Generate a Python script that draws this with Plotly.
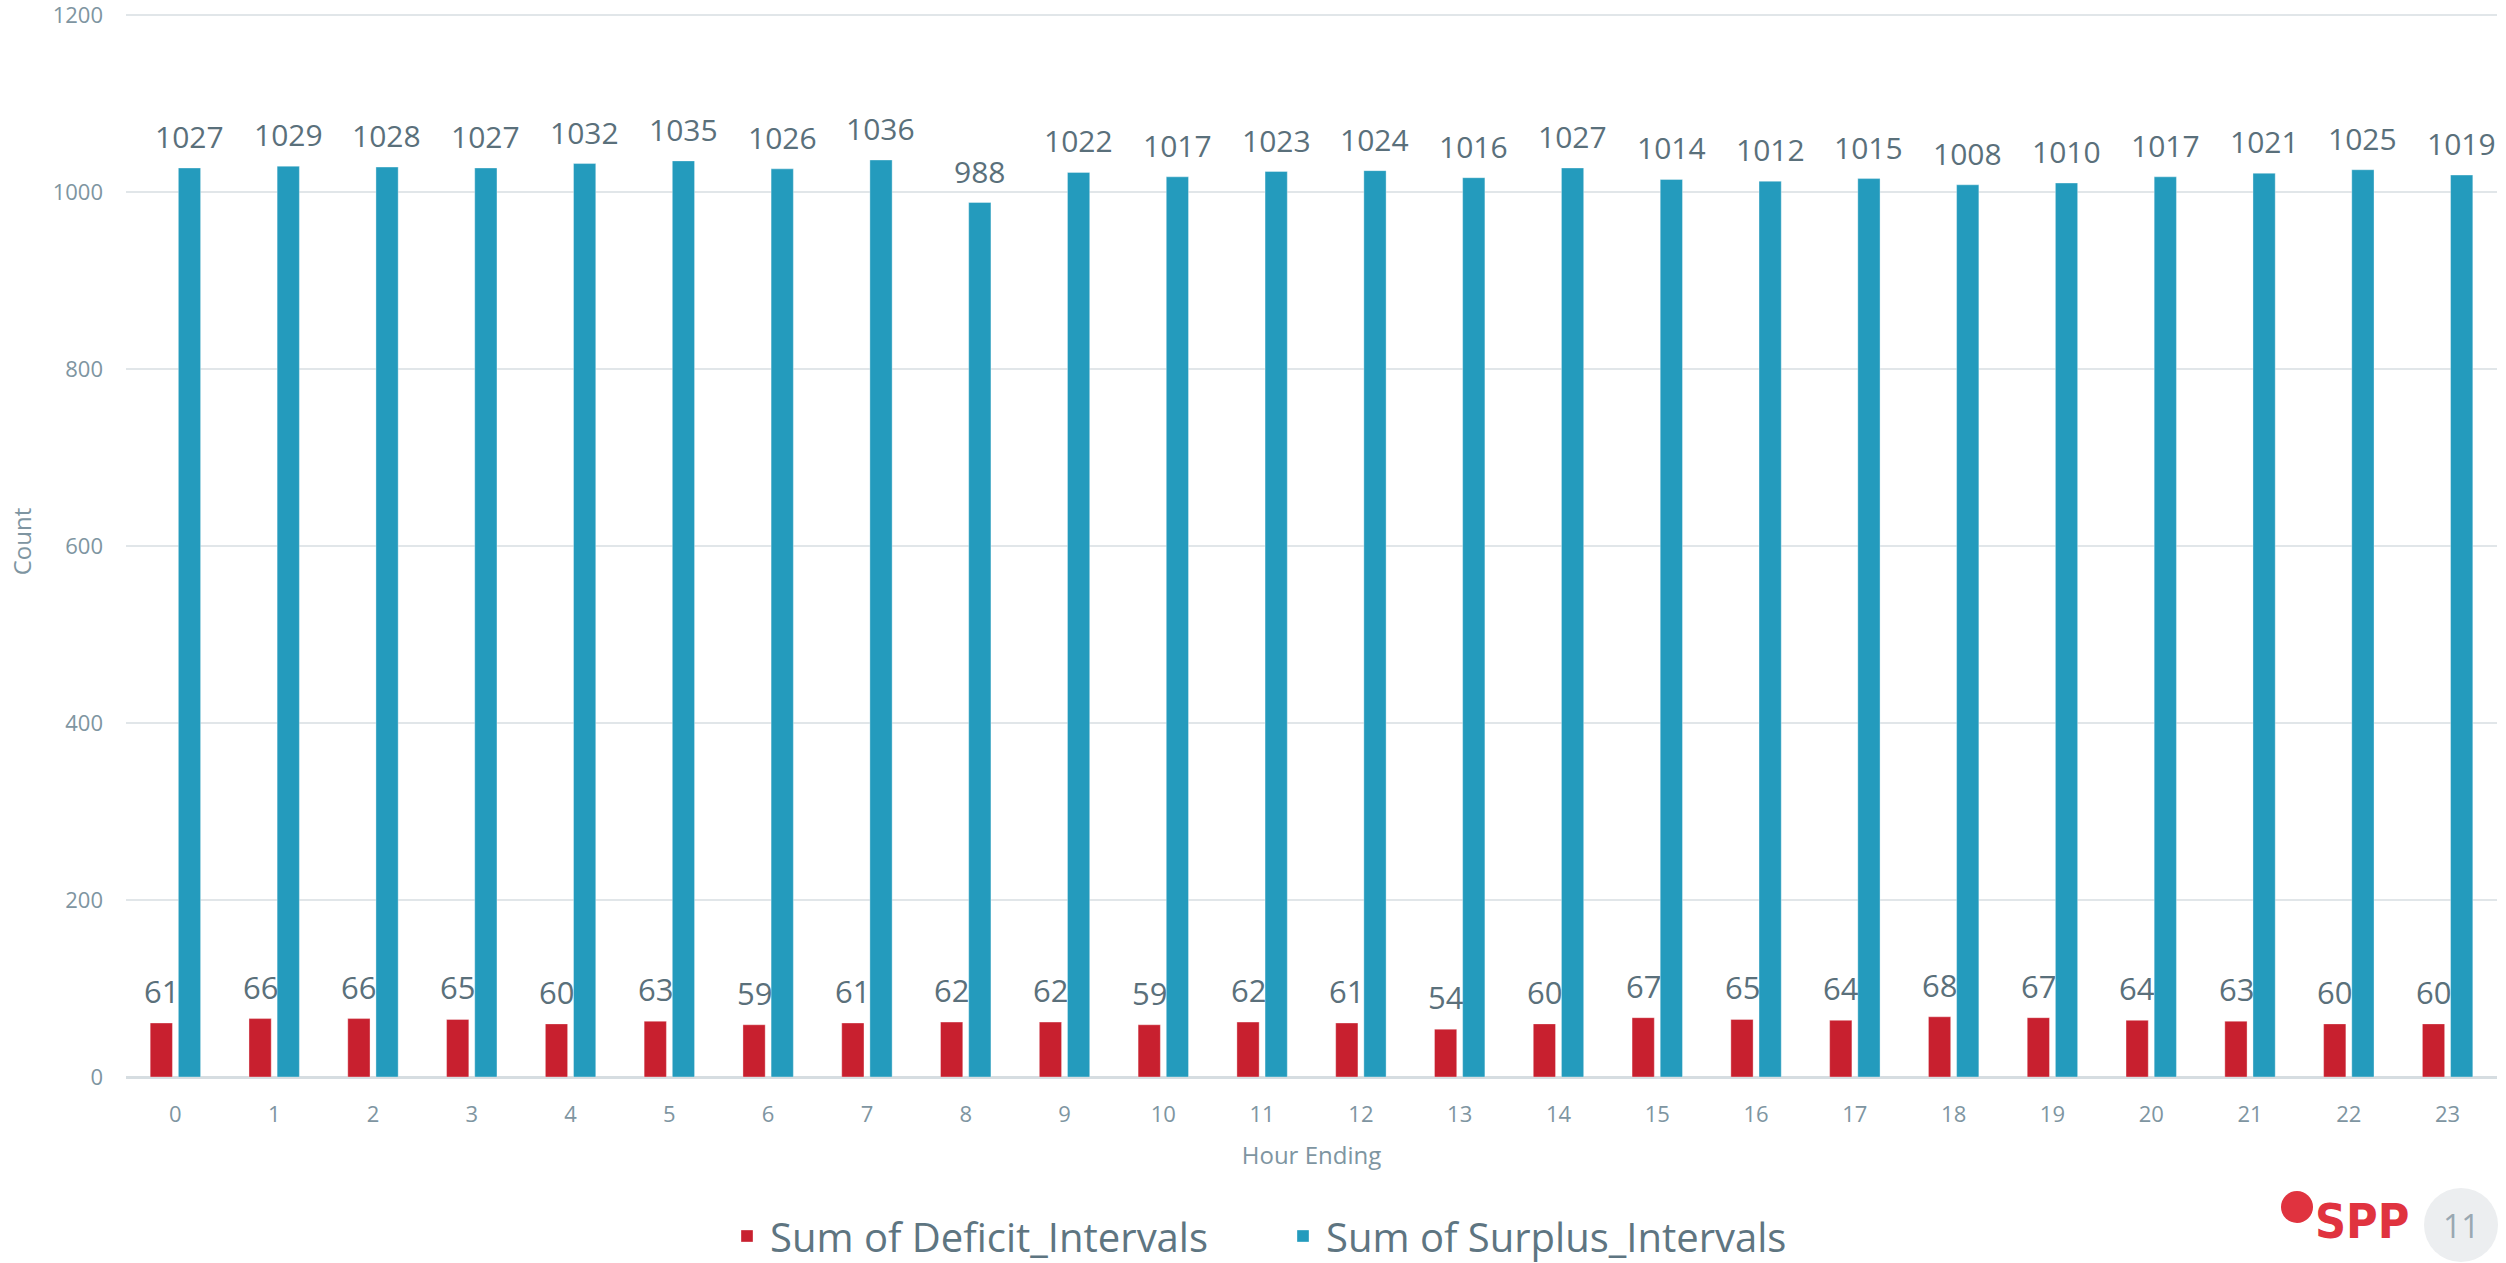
import plotly.graph_objects as go

hours = list(range(24))
deficit = [61, 66, 66, 65, 60, 63, 59, 61, 62, 62, 59, 62, 61, 54, 60, 67, 65, 64, 68, 67, 64, 63, 60, 60]
surplus = [1027, 1029, 1028, 1027, 1032, 1035, 1026, 1036, 988, 1022, 1017, 1023, 1024, 1016, 1027,
           1014, 1012, 1015, 1008, 1010, 1017, 1021, 1025, 1019]
y_ticks = [0, 200, 400, 600, 800, 1000, 1200]
series_names = ["Sum of Deficit_Intervals", "Sum of Surplus_Intervals"]

RED = "#C8202F"
BLUE = "#249BBD"
LABEL = "#5A707B"
TICK = "#7E95A1"
FONT = "Open Sans, Noto Sans, sans-serif"

W, H = 2506, 1263
ML, MR, MT, MB = 126, 9, 6, 186
PW, PH = W - ML - MR, H - MT - MB
Y_MAX = 1210


def px_x(p):
    return (p - ML) / PW


def px_y(p):
    return (H - MB - p) / PH


fig = go.Figure()
fig.add_trace(go.Bar(x=hours, y=deficit, name=series_names[0], marker=dict(color=RED, line=dict(color="rgba(255,255,255,0.35)", width=1))))
fig.add_trace(go.Bar(x=hours, y=surplus, name=series_names[1], marker=dict(color=BLUE, line=dict(color="rgba(255,255,255,0.35)", width=1))))

annotations = []
for h, v in zip(hours, deficit):
    annotations.append(dict(x=h, y=v, text=str(v), xshift=-14, yshift=9, yanchor="bottom",
                            showarrow=False, font=dict(size=31, color=LABEL, family=FONT)))
for h, v in zip(hours, surplus):
    annotations.append(dict(x=h, y=v, text=str(v), xshift=14, yshift=9, yanchor="bottom",
                            showarrow=False, font=dict(size=30, color=LABEL, family=FONT)))

# SPP logo text and page number
annotations.append(dict(xref="paper", yref="paper", x=px_x(2362), y=px_y(1221), text="<b>SPP</b>",
                        showarrow=False, xanchor="center", yanchor="middle",
                        font=dict(size=48, color="#E0333F", family="Liberation Sans Narrow, DejaVu Sans Condensed, sans-serif")))
annotations.append(dict(xref="paper", yref="paper", x=px_x(2461), y=px_y(1225), text="11",
                        showarrow=False, xanchor="center", yanchor="middle",
                        font=dict(size=32, color="#9AA8B2", family=FONT)))

shapes = [
    dict(type="circle", xref="paper", yref="paper", x0=px_x(2424), x1=px_x(2498), y0=px_y(1262), y1=px_y(1188),
         fillcolor="#ECEEF0", line=dict(width=0), layer="below"),
    dict(type="circle", xref="paper", yref="paper", x0=px_x(2281), x1=px_x(2313), y0=px_y(1223), y1=px_y(1191),
         fillcolor="#E0333F", line=dict(width=0)),
]

fig.update_layout(
    width=W, height=H,
    margin=dict(l=ML, r=MR, t=MT, b=MB, autoexpand=False),
    paper_bgcolor="white", plot_bgcolor="white",
    barmode="group", bargap=0.43, bargroupgap=0.21,
    font=dict(family=FONT, color=TICK),
    showlegend=True,
    legend=dict(orientation="h", x=px_x(724), xanchor="left", y=px_y(1236), yanchor="middle",
                font=dict(size=40, color="#5E7581", family=FONT), itemwidth=36, tracegroupgap=0,
                entrywidth=505, entrywidthmode="pixels"),
    annotations=annotations,
    shapes=shapes,
    xaxis=dict(range=[-0.5, 23.5], tickmode="array", tickvals=hours, ticktext=[str(h) for h in hours],
               showgrid=False, showline=False, zeroline=False, ticks="", automargin=False,
               tickfont=dict(size=22, color=TICK), ticklabelstandoff=22,
               title=dict(text="Hour Ending", font=dict(size=24, color=TICK), standoff=20)),
    yaxis=dict(range=[0, Y_MAX], tickmode="array", tickvals=y_ticks, ticktext=[str(t) for t in y_ticks],
               showgrid=True, gridcolor="#E1E6E9", gridwidth=2, automargin=False,
               zeroline=True, zerolinecolor="#D6DDE1", zerolinewidth=3, showline=False, ticks="",
               tickfont=dict(size=22, color=TICK), ticklabelstandoff=22, ticklabeloverflow="allow",
               title=dict(text="Count", font=dict(size=24, color=TICK), standoff=14)),
)

fig.write_html("out.html", config={"displayModeBar": False},
               post_script="document.body.style.margin='0';document.body.style.overflow='hidden';")
